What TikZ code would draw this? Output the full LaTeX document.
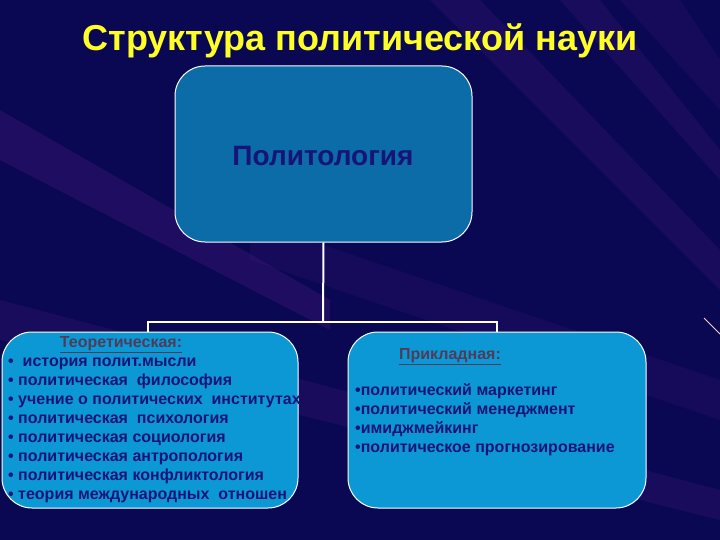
\documentclass[tikz,border=0pt]{standalone}
\usepackage{fontspec}
\setmainfont{Liberation Sans}
\begin{document}
\begin{tikzpicture}[x=1pt,y=-1pt,
  box/.style={draw=white,line width=1pt,rounded corners=30pt,inner sep=0pt},
  conn/.style={draw=white,line width=2pt},
  li/.style={text=navytxt,font=\bfseries\fontsize{16}{19}\selectfont,inner sep=0pt,anchor=base west},
  headtxt/.style={text=headcol,font=\bfseries\fontsize{16}{19}\selectfont,inner sep=0pt,anchor=base}]
\definecolor{bgcol}{RGB}{10,8,82}
\definecolor{streak}{RGB}{90,30,140}
\definecolor{topfill}{RGB}{12,108,168}
\definecolor{botfill}{RGB}{12,152,212}
\definecolor{navytxt}{RGB}{22,20,120}
\definecolor{headcol}{RGB}{80,60,90}
\definecolor{titlecol}{RGB}{255,255,40}
\useasboundingbox (0,0) rectangle (720,540);
\fill[bgcol] (0,0) rectangle (720,540);
% background streaks
\fill[streak,opacity=0.25] (0,110) -- (0,160) -- (330,330) -- (330,300) -- cycle;
\fill[streak,opacity=0.2] (0,300) -- (0,340) -- (720,520) -- (720,490) -- cycle;
\fill[streak,opacity=0.2] (430,0) -- (480,0) -- (720,250) -- (720,290) -- cycle;
\fill[streak,opacity=0.2] (560,0) -- (600,0) -- (720,150) -- (720,180) -- cycle;
\fill[streak,opacity=0.15] (250,220) -- (250,260) -- (720,420) -- (720,380) -- cycle;
\fill[streak,opacity=0.15] (620,0) -- (680,0) -- (720,60) -- (720,110) -- cycle;
\draw[white!80!magenta,line width=0.8pt] (704,318) -- (720,334);
% title
\node[text=titlecol,font=\bfseries\fontsize{36}{40}\selectfont,inner sep=0pt,anchor=base] (title) at (360,51) {Структура политической науки};
% boxes
\node[box,fill=topfill,minimum width=297pt,minimum height=176pt] (top) at (323.5,154) {};
\node[text=navytxt,font=\bfseries\fontsize{28}{32}\selectfont,inner sep=0pt] (toptxt) at (323,156) {Политология};
\node[box,fill=botfill,minimum width=296pt,minimum height=176pt] (left) at (150,420) {};
\node[box,fill=botfill,minimum width=298pt,minimum height=176pt] (right) at (497,420) {};
% connectors
\coordinate (junc) at (323,322);
\coordinate (lend) at (148,332);
\coordinate (rend) at (497,332);
\draw[conn] (top.south) -- (junc);
\draw[conn] (lend) |- (junc) -| (rend);
% left text
\node[headtxt] (lhead) at (121,347) {\underline{Теоретическая:}};
\node[li] (l1) at (8,366) {•\ \ история полит.мысли};
\node[li] (l2) at (8,385) {• политическая\ \ философия};
\node[li] (l3) at (8,404) {• учение о политических\ \ институтах};
\node[li] (l4) at (8,423) {• политическая\ \ психология};
\node[li] (l5) at (8,442) {• политическая социология};
\node[li] (l6) at (8,461) {• политическая антропология};
\node[li] (l7) at (8,480) {• политическая конфликтология};
\node[li] (l8) at (8,499) {• теория международных\ \ отношен};
% right text
\node[headtxt] (rhead) at (450,359) {\underline{Прикладная:}};
\node[li] (r1) at (355,395) {•политический маркетинг};
\node[li] (r2) at (355,414) {•политический менеджмент};
\node[li] (r3) at (355,433) {•имиджмейкинг};
\node[li] (r4) at (355,452) {•политическое прогнозирование};
\end{tikzpicture}
\end{document}
